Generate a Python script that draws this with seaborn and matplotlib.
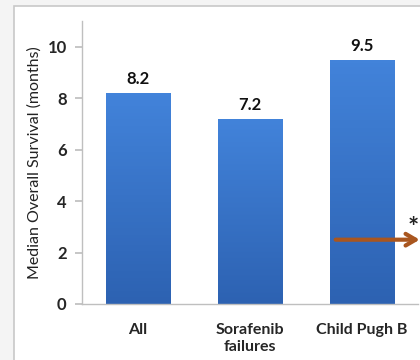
import matplotlib
matplotlib.use("Agg")
import matplotlib.pyplot as plt
import matplotlib.colors as mcolors
import numpy as np
import seaborn as sns
import pandas as pd
from matplotlib.patches import Rectangle

# data
categories = ["All", "Sorafenib\nfailures", "Child Pugh B"]
survival = [8.2, 7.2, 9.5]
value_labels = ["8.2", "7.2", "9.5"]
y_ticks = [0, 2, 4, 6, 8, 10]

sns.set_theme(style="white")
plt.rcParams["font.family"] = ["Lato", "DejaVu Sans"]

fig = plt.figure(figsize=(4.2, 3.6), dpi=100)
fig.patch.set_facecolor("#f4f4f4")

# white panel with light grey border (behind the axes)
panel = Rectangle((14 / 420, -0.05), 1.2, 1 - 6 / 360 + 0.05,
                  transform=fig.transFigure, facecolor="white",
                  edgecolor="#c8c8c8", linewidth=1.2, zorder=-10)
fig.patches.append(panel)

ax = fig.add_axes([82 / 420, 1 - 304 / 360, 336 / 420, (304 - 21) / 360])
ax.set_facecolor("none")
ax.set_zorder(5)

df = pd.DataFrame({"group": categories, "os": survival})
sns.barplot(data=df, x="group", y="os", color="#3a74c6", width=0.58,
            edgecolor="#2f62ad", linewidth=0.6, saturation=1, ax=ax)

# vertical gradient fill on the bars, like the office-style original
grad = mcolors.LinearSegmentedColormap.from_list("bar", ["#2d62b2", "#4283da"])
for p in ax.patches:
    x0, y0 = p.get_x(), p.get_y()
    w, h = p.get_width(), p.get_height()
    im = ax.imshow(np.linspace(0, 1, 64).reshape(-1, 1), cmap=grad, origin="lower",
                   extent=[x0, x0 + w, y0, y0 + h], aspect="auto", zorder=p.get_zorder())
    im.set_clip_path(p)

for i, (v, lab) in enumerate(zip(survival, value_labels)):
    ax.text(i, v + 0.22, lab, ha="center", va="bottom",
            fontsize=12, fontweight="bold", color="#111111")

ax.set_ylim(0, 11)
ax.set_xlim(-0.5, 2.5)
ax.set_yticks(y_ticks)
ax.set_yticklabels([str(t) for t in y_ticks], fontsize=12, fontweight="bold")
ax.set_xticks(range(len(categories)))
ax.set_xticklabels(categories, fontsize=11.5, fontweight="bold")
ax.set_xticks([-0.5, 0.5, 1.5, 2.5], minor=True)
ax.tick_params(axis="x", which="major", length=0, pad=14)
ax.tick_params(axis="x", which="minor", length=5, color="#bfbfbf", direction="out")
ax.tick_params(axis="y", length=5, color="#bfbfbf", direction="out", left=True, pad=6)
ax.set_xlabel("")
ax.set_ylabel("Median Overall Survival (months)", fontsize=11.5, color="#222222",
              labelpad=4)

for s in ["top", "right"]:
    ax.spines[s].set_visible(False)
for s in ["left", "bottom"]:
    ax.spines[s].set_color("#bfbfbf")
    ax.spines[s].set_linewidth(1)

# brown arrow and asterisk on the right
ax.annotate("", xy=(2.54, 2.5), xytext=(1.74, 2.5),
            arrowprops=dict(arrowstyle="->,head_length=0.6,head_width=0.35",
                            color="#a9561f", lw=3),
            annotation_clip=False)
ax.text(2.455, 2.5, "*", fontsize=19, fontweight="bold", ha="center",
        va="bottom", color="#222222", clip_on=False)

fig.savefig("out.png", dpi=100, facecolor=fig.get_facecolor())
